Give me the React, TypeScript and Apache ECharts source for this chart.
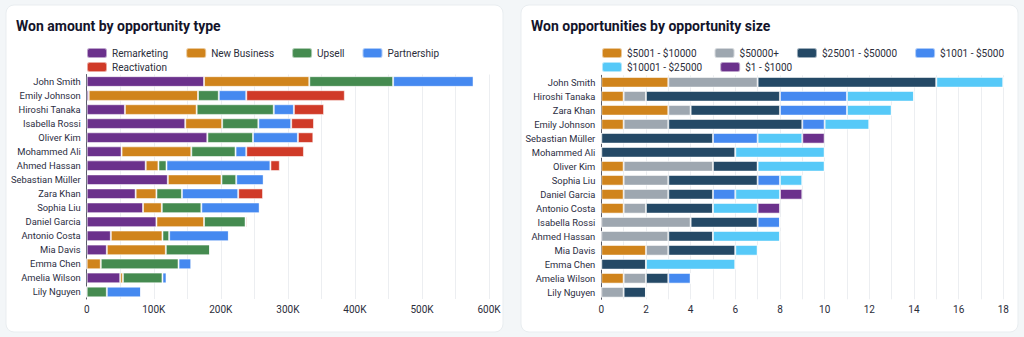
import React, { useEffect, useRef } from "react";
import * as echarts from "echarts";

const typeNames = ["John Smith", "Emily Johnson", "Hiroshi Tanaka", "Isabella Rossi", "Oliver Kim", "Mohammed Ali", "Ahmed Hassan", "Sebastian Müller", "Zara Khan", "Sophia Liu", "Daniel Garcia", "Antonio Costa", "Mia Davis", "Emma Chen", "Amelia Wilson", "Lily Nguyen"];
const remarketing = [175, 3, 57, 147, 180, 52, 88, 121, 73, 84, 104, 36, 30, 0, 50, 0];
const newBusiness = [157, 163, 107, 55, 0, 104, 19, 80, 31, 28, 71, 77, 88, 21, 4, 0];
const upsell = [125, 31, 115, 54, 68, 66, 12, 22, 38, 59, 62, 10, 66, 116, 59, 30];
const partnership = [120, 41, 30, 49, 67, 16, 155, 41, 84, 87, 0, 89, 0, 19, 6, 51];
const reactivation = [0, 147, 45, 34, 23, 86, 14, 0, 37, 0, 2, 0, 0, 0, 0, 0];

const sizeNames = ["John Smith", "Hiroshi Tanaka", "Zara Khan", "Emily Johnson", "Sebastian Müller", "Mohammed Ali", "Oliver Kim", "Sophia Liu", "Daniel Garcia", "Antonio Costa", "Isabella Rossi", "Ahmed Hassan", "Mia Davis", "Emma Chen", "Amelia Wilson", "Lily Nguyen"];
const s5001 = [3, 1, 3, 1, 0, 0, 1, 1, 1, 1, 0, 0, 2, 0, 1, 0];
const s50000 = [4, 1, 1, 2, 0, 0, 4, 2, 2, 1, 4, 3, 1, 0, 1, 1];
const s25001 = [8, 6, 4, 6, 5, 6, 2, 4, 2, 3, 3, 2, 3, 2, 1, 1];
const s1001 = [0, 3, 3, 1, 2, 0, 0, 1, 1, 0, 1, 0, 0, 0, 1, 0];
const s10001 = [3, 3, 2, 2, 2, 4, 3, 1, 2, 2, 0, 3, 1, 4, 0, 0];
const s1 = [0, 0, 0, 0, 1, 0, 0, 0, 1, 1, 0, 0, 0, 0, 0, 0];

const C = {
  purple: "#6B318C",
  orange: "#D0841C",
  green: "#458B50",
  blue: "#4589F0",
  red: "#D03A28",
  gray: "#9EA7B0",
  navy: "#244966",
  light: "#56C9F8",
};

const FONT = "Roboto, 'Noto Sans', sans-serif";

export default function App() {
  const ref = useRef<HTMLDivElement>(null);
  useEffect(() => {
    document.body.style.margin = "0";
    const chart = echarts.init(ref.current!, null, { renderer: "svg" });
    const barStyle = (color: string) => ({
      color,
      borderColor: "rgba(255,255,255,0.55)",
      borderWidth: 1,
    });
    const mk = (name: string, data: number[], color: string, idx: number) => ({
      name,
      type: "bar",
      stack: "s" + idx,
      xAxisIndex: idx,
      yAxisIndex: idx,
      data: data.map((v) => (idx === 0 ? v * 1000 : v)),
      barCategoryGap: "24%",
      itemStyle: barStyle(color),
      emphasis: { disabled: true },
    });
    const legendBase = {
      orient: "horizontal",
      itemWidth: 20,
      itemHeight: 10,
      itemGap: 17,
      padding: 0,
      textStyle: { fontSize: 10, color: "#2b2d3a", fontFamily: FONT },
      selectedMode: false,
    };
    const yAxisBase = (names: string[], idx: number) => ({
      type: "category",
      gridIndex: idx,
      data: names,
      inverse: true,
      axisLine: { show: true, lineStyle: { color: "#5a5d6a", width: 1 } },
      axisTick: { show: false },
      axisLabel: { fontSize: 9.4, color: "#2b2d42", margin: 6, fontFamily: FONT },
      splitLine: { show: false },
    });
    const xAxisBase = (idx: number) => ({
      type: "value",
      gridIndex: idx,
      min: 0,
      max: idx === 0 ? 600000 : 18,
      interval: idx === 0 ? 100000 : 2,
      axisLine: { show: false },
      axisTick: { show: false },
      axisLabel: {
        fontSize: 10,
        color: "#2b2d3a",
        margin: 5,
        fontFamily: FONT,
        formatter: idx === 0 ? (v: number) => (v === 0 ? "0" : v / 1000 + "K") : undefined,
      },
      splitLine: { show: true, lineStyle: { color: "#eceef1", width: 1 } },
      minorTick: { show: false, splitNumber: 2 },
      minorSplitLine: { show: true, lineStyle: { color: "#eceef1", width: 1 } },
    });
    const titleStyle = { fontSize: 14, fontWeight: "bold", color: "#14142b", fontFamily: FONT };
    chart.setOption({
      animation: false,
      backgroundColor: "#f3f6f8",
      textStyle: { fontFamily: FONT },
      graphic: [
        { type: "rect", shape: { x: 6, y: 5, width: 497, height: 327, r: 8 }, style: { fill: "#ffffff", stroke: "#e9edf0", lineWidth: 1 }, z: -10 },
        { type: "rect", shape: { x: 521, y: 5, width: 497, height: 327, r: 8 }, style: { fill: "#ffffff", stroke: "#e9edf0", lineWidth: 1 }, z: -10 },
      ],
      title: [
        { text: "Won amount by opportunity type", left: 16, top: 19, padding: 0, textStyle: titleStyle },
        { text: "Won opportunities by opportunity size", left: 531, top: 19, padding: 0, textStyle: titleStyle },
      ],
      legend: [
        { ...legendBase, left: 86, top: 47, data: ["Remarketing", "New Business", "Upsell", "Partnership"] },
        { ...legendBase, left: 86, top: 61, data: ["Reactivation"] },
        { ...legendBase, left: 601, top: 47, data: ["$5001 - $10000", "$50000+", "$25001 - $50000", "$1001 - $5000"] },
        { ...legendBase, left: 601, top: 61, data: ["$10001 - $25000", "$1 - $1000"] },
      ],
      grid: [
        { left: 86.7, width: 402.3, top: 74.5, height: 224.5 },
        { left: 601.3, width: 402, top: 75.3, height: 224 },
      ],
      xAxis: [xAxisBase(0), xAxisBase(1)],
      yAxis: [yAxisBase(typeNames, 0), yAxisBase(sizeNames, 1)],
      series: [
        mk("Remarketing", remarketing, C.purple, 0),
        mk("New Business", newBusiness, C.orange, 0),
        mk("Upsell", upsell, C.green, 0),
        mk("Partnership", partnership, C.blue, 0),
        mk("Reactivation", reactivation, C.red, 0),
        mk("$5001 - $10000", s5001, C.orange, 1),
        mk("$50000+", s50000, C.gray, 1),
        mk("$25001 - $50000", s25001, C.navy, 1),
        mk("$1001 - $5000", s1001, C.blue, 1),
        mk("$10001 - $25000", s10001, C.light, 1),
        mk("$1 - $1000", s1, C.purple, 1),
      ],
    });
    return () => chart.dispose();
  }, []);
  return <div ref={ref} style={{ position: "fixed", left: 0, top: 0, width: 1024, height: 337 }} />;
}
